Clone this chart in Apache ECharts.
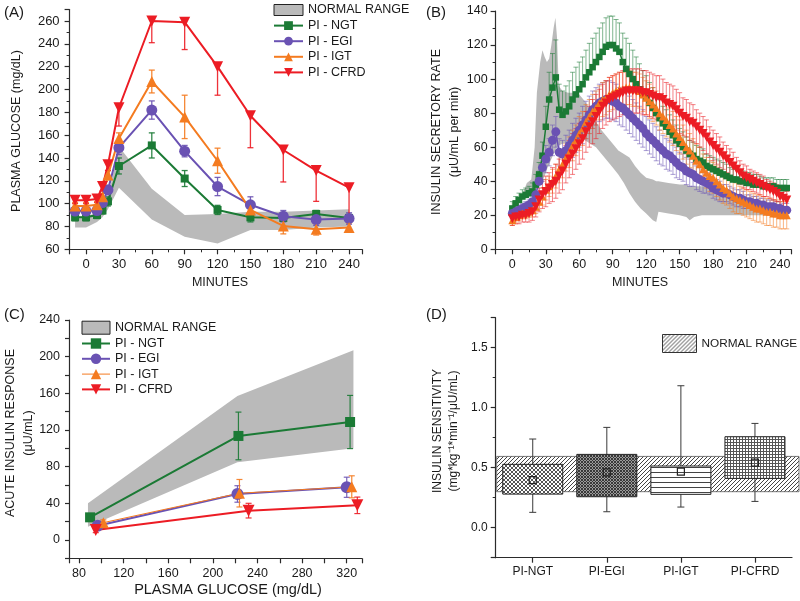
<!DOCTYPE html>
<html><head><meta charset="utf-8">
<script src="https://cdn.jsdelivr.net/npm/echarts@6/dist/echarts.min.js"></script>
<style>html,body{margin:0;padding:0;background:#fff}#c{width:800px;height:601px}</style>
</head><body><div id="c"></div><script>
// ---------- Panel A: plasma glucose ----------
const aT = [-10,0,10,15,20,30,60,90,120,150,180,210,240];
const aNGT = [88,88,90,94,102,133,151,122,94.5,88,87.5,91,87.5];
const aNGTerr = [3,3,3,3,4,7,11,7,4,4,3,3,3];
const aEGI = [93.5,93.5,94,101,112,149,182,146,115,99,89,86,87];
const aEGIerr = [3,3,3,3,4,6,8,5,8,7,5,5,5];
const aIGT = [98,98,99,106,125,157,207,176,137.6,94.5,80.5,77.5,79];
const aIGTerr = [3,3,3,3,4,5,10,19,11,5,7,5,4];
const aCFRD = [103,103,104,115,134,184,260,259,220,177,147,129,114];
const aCFRDerrLow = [3,3,3,4,5,16,19,24,25,28,28,27,27];
const aBandT = [-10,0,10,15,20,30,60,90,120,150,180,210,240];
const aBandLow = [79,79,84,88,95,114,86,71,65,77,77,79,80];
const aBandHigh = [89,89,92,96,105,150,113,90,91,93,93,94,95];

// ---------- Panel B: insulin secretory rate ----------
const bT = [0,3,6,9,12,15,18,21,24,27,30,33,36,39,42,45,48,51,54,57,60,63,66,69,72,75,78,81,84,87,
  90,93,96,99,102,105,108,111,114,117,120,123,126,129,132,135,138,141,144,147,150,153,156,159,162,165,168,171,174,177,
  180,183,186,189,192,195,198,201,204,207,210,213,216,219,222,225,228,231,234,237,240,243,246];
const bNGT = [24,27,29,31,32,33,34,38,44,55, 72,88,95,101,82,79,81,84,88,91, 94,97,101,104,107,110,113,116,119,120,
  120,118,116,110,106,103,100,97,94,91, 89,86,83,80,77,74,72,69,67,64, 62,60,58,56,55,53,52,51,49,48,
  47,46,45,44,43,42,41,41,40,40, 39,39,38,38,38,37,37,37,37,36, 36,36,36];
const bNGTerrUp = [4,4,4,4,4,4,5,6,7,8, 12,16,20,22,15,14,15,15,16,16, 16,16,16,17,17,17,17,17,17,17,
  17,17,17,17,18,18,17,16,15,14, 13,12,12,11,11,10,10,10,9,9, 9,9,8,8,8,8,8,8,7,7,
  7,7,7,7,7,6,6,6,6,6, 6,6,6,6,5,5,5,5,5,5, 5,5,5];
const bEGI = [21,22,23,24,25,26,28,32,40,48, 53,57,64,69,57,56,58,61,64,67, 70,73,76,79,82,84,86,87,88,88,
  87,86,84,83,81,79,77,75,73,71, 68,66,64,62,60,58,56,55,53,51, 49,48,46,45,44,42,41,40,39,38,
  36,35,34,33,33,32,31,30,30,29, 28,28,27,27,26,26,25,25,25,24, 24,23,23];
const bEGIerr = [3,3,3,3,3,3,4,5,6,7, 8,8,9,9,8,8,9,9,10,10, 10,11,11,11,11,11,11,11,11,11,
  11,11,11,11,11,11,11,11,11,11, 10,10,10,10,10,9,9,9,9,9, 8,8,8,8,7,7,7,7,6,6,
  6,6,6,5,5,5,5,5,5,5, 4,4,4,4,4,4,4,4,4,4, 4,4,4];
const bIGT = [17,19,20,21,21,22,23,25,28,31, 35,37,40,43,47,50,54,57,61,64, 68,71,75,78,81,83,86,88,89,91,
  92,93,94,94,95,95,94,94,93,91, 89,87,85,83,80,78,76,73,71,68, 66,63,60,58,55,52,50,47,45,43,
  42,40,38,36,35,33,31,30,29,28, 27,26,25,24,24,23,22,22,21,21, 20,20,20];
const bIGTerr = [3,3,3,3,3,3,4,4,5,5, 6,6,7,7,8,8,8,9,9,9, 10,10,10,10,10,10,10,10,10,10,
  10,10,10,10,10,10,10,10,10,10, 10,10,10,10,10,10,10,10,10,10, 10,10,10,10,10,10,10,9,9,9,
  9,9,9,9,9,9,9,9,8,8, 8,8,8,8,8,8,8,8,8,8, 8,8,8];
const bCFRD = [18,19,19,20,20,21,22,25,29,32, 34,36,38,40,43,46,50,53,56,59, 62,65,69,72,75,78,81,84,86,88,
  89,90,91,92,93,93,93,93,93,92, 92,91,90,89,89,88,86,85,84,82, 80,78,77,75,74,72,70,68,66,63,
  61,59,57,55,53,51,49,47,45,43, 42,41,40,39,38,37,36,35,34,33, 31,30,29];
const bCFRDerr = [4,4,4,4,4,5,5,6,7,8, 9,9,10,10,10,11,11,11,12,12, 12,12,12,12,13,13,13,13,13,13,
  13,13,13,13,13,13,13,13,13,13, 13,13,13,13,13,12,12,12,12,12, 12,11,11,11,11,10,10,10,10,9,
  9,9,9,8,8,8,8,7,7,7, 7,6,6,6,6,6,5,5,5,5, 5,5,5];
const bBandT = [10,13,17,20,22,25,27,29,31,33,35,37,38.6,40,41.6,45,50,55,60,65,70,75,80,85,90,95,100,105,110,115,120,126,129,131,140,150,156,159,163,170,180,190,200,210,220,230,246];
const bBandLow = [30,30,31,33,35,38,40,43,47,50,53,56,58,60,61,62,63,64,64,64,62,60,56,52,48,44,39,33,28,24,21,17,16,22,21,20,19,17,19,20,20,20,20,20,20,20,20];
const bBandHigh = [34,39,41,60,92,110,117,113,110,112,120,130,136,125,96,93,92,92,91,87,82,75,70,66,62,58,56,54,49,45,42,41,40,40,39,38,38,37,37,37,36,33,28,26,24,23,22];

// ---------- Panel C: acute insulin response ----------
const cNGTx = [89.9,222.9,323], cNGT = [24.7,113.5,128.7], cNGTerr = [3,26,29];
const cEGIx = [96.7,222,320], cEGI = [15.6,50.2,57.5], cEGIerr = [3,9,11];
const cIGTx = [101.8,223.8,324.5], cIGT = [18.9,51,58], cIGTerr = [3,15,12];
const cCFRDx = [95,232,329.5], cCFRD = [11,32,37.8], cCFRDerr = [3,8,9];
const cBandX = [88,222,326], cBandLow = [14.5,84.7,100], cBandHigh = [40,157,207];

// ---------- Panel D: insulin sensitivity ----------
const dCats = ['PI-NGT','PI-EGI','PI-IGT','PI-CFRD'];
const dWhiskLow = [0.128,0.133,0.172,0.219];
const dBoxLow = [0.28,0.258,0.278,0.411];
const dBoxHigh = [0.528,0.611,0.514,0.758];
const dWhiskHigh = [0.739,0.836,1.183,0.869];
const dMean = [0.397,0.461,0.467,0.542];
const dNormLow = 0.30, dNormHigh = 0.594;

// ---------- styles ----------
const FONT = '"Liberation Sans", Arial, Helvetica, sans-serif';
const TXT = '#1a1a1a', AXC = '#2b2b2b';
const C_NGT = '#1b7a35', C_EGI = '#6a52b3', C_IGT = '#f47b20', C_CFRD = '#ec1c24', C_BAND = '#bababa';
const INV_TRI = 'path://M0,0L10,0L5,8.66Z';

function pat(w, h, draw) {
  const c = document.createElement('canvas'); c.width = w; c.height = h;
  const g = c.getContext('2d'); g.fillStyle = '#fff'; g.fillRect(0, 0, w, h);
  g.strokeStyle = '#3a3a3a'; g.lineWidth = 1; draw(g, w, h);
  return { image: c, repeat: 'repeat' };
}
function diagFwd(g, w, h) { g.beginPath(); g.moveTo(-1, h + 1); g.lineTo(w + 1, -1); g.moveTo(-1, 1); g.lineTo(1, -1); g.moveTo(w - 1, h + 1); g.lineTo(w + 1, h - 1); g.stroke(); }
function diagBack(g, w, h) { g.beginPath(); g.moveTo(-1, -1); g.lineTo(w + 1, h + 1); g.moveTo(w - 1, -1); g.lineTo(w + 1, 1); g.moveTo(-1, h - 1); g.lineTo(1, h + 1); g.stroke(); }
const P_NORM = pat(4, 4, (g, w, h) => { g.strokeStyle = '#444'; diagFwd(g, w, h); });
const P_NGT = pat(4, 4, (g, w, h) => { g.strokeStyle = '#555'; diagFwd(g, w, h); diagBack(g, w, h); });
const P_EGI = pat(3, 3, (g, w, h) => { g.strokeStyle = '#333'; g.lineWidth = 1.1; diagFwd(g, w, h); diagBack(g, w, h); });
const P_IGT = pat(6, 5, (g, w, h) => { g.strokeStyle = '#444'; g.beginPath(); g.moveTo(0, 2.5); g.lineTo(w, 2.5); g.stroke(); });
const P_CFRD = pat(3, 3, (g, w, h) => { g.strokeStyle = '#555'; g.beginPath(); g.moveTo(0, 1.5); g.lineTo(w, 1.5); g.moveTo(1.5, 0); g.lineTo(1.5, h); g.stroke(); });
const D_PATTERNS = [P_NGT, P_EGI, P_IGT, P_CFRD];

function errRender(color, capHalf, lw, opacity) {
  return function (params, api) {
    const x = api.value(0), y = api.value(1), lo = api.value(2), hi = api.value(3);
    const pl = api.coord([x, lo]), ph = api.coord([x, hi]);
    const st = { stroke: color, lineWidth: lw, opacity: opacity, fill: null };
    const ch = [{ type: 'line', shape: { x1: pl[0], y1: pl[1], x2: ph[0], y2: ph[1] }, style: st }];
    if (lo < y) ch.push({ type: 'line', shape: { x1: pl[0] - capHalf, y1: pl[1], x2: pl[0] + capHalf, y2: pl[1] }, style: st });
    if (hi > y) ch.push({ type: 'line', shape: { x1: ph[0] - capHalf, y1: ph[1], x2: ph[0] + capHalf, y2: ph[1] }, style: st });
    return { type: 'group', children: ch };
  };
}
function bandRender(ts, lows, highs, fill) {
  return function (params, api) {
    if (params.dataIndex !== 0) return null;
    const pts = [];
    for (let i = 0; i < ts.length; i++) pts.push(api.coord([ts[i], highs[i]]));
    for (let i = ts.length - 1; i >= 0; i--) pts.push(api.coord([ts[i], lows[i]]));
    return { type: 'polygon', shape: { points: pts }, style: { fill: fill } };
  };
}

function vAxis(gi, o) {
  const lbl = Object.assign({ color: TXT, fontFamily: FONT, fontSize: 12, margin: 8 }, o.label || {});
  const ax = {
    type: 'value', gridIndex: gi, min: o.min, max: o.max,
    axisLine: { show: true, onZero: false, lineStyle: { color: AXC, width: 1.2 } },
    axisTick: { show: true, inside: false, length: o.tickLen || 5, lineStyle: { color: AXC, width: 1.2 } },
    minorTick: { show: !!o.minor, splitNumber: 2, length: 3, lineStyle: { color: AXC, width: 1 } },
    splitLine: { show: false }, minorSplitLine: { show: false },
    axisLabel: lbl
  };
  if (o.interval != null) ax.interval = o.interval;
  if (o.splitNumber != null) ax.splitNumber = o.splitNumber;
  return ax;
}

const xAxis = [
  vAxis(0, { min: -15, max: 252, splitNumber: 9, minor: true, label: { fontSize: 13, margin: 9, showMinLabel: false, showMaxLabel: false } }),
  vAxis(1, { min: -15, max: 250, splitNumber: 9, minor: true, label: { fontSize: 12.5, margin: 9, showMinLabel: false, showMaxLabel: false } }),
  vAxis(2, { min: 71, max: 333.5, splitNumber: 13, label: { fontSize: 12.5, margin: 9, formatter: v => (v % 40 === 0 ? String(v) : '') } }),
  { type: 'category', gridIndex: 3, data: dCats, boundaryGap: true,
    axisLine: { show: true, onZero: false, lineStyle: { color: AXC, width: 1.2 } },
    axisTick: { show: true, alignWithLabel: true, length: 5, lineStyle: { color: AXC, width: 1.2 } },
    axisLabel: { color: TXT, fontFamily: FONT, fontSize: 12, margin: 8 }, splitLine: { show: false } }
];
const yAxis = [
  vAxis(0, { min: 60, max: 270, interval: 20, minor: true, label: { fontSize: 13, margin: 10, showMaxLabel: false } }),
  vAxis(1, { min: 0, max: 140, interval: 20, minor: true, label: { fontSize: 12.5, margin: 8 } }),
  vAxis(2, { min: -20, max: 240, interval: 20, tickLen: 4, label: { fontSize: 12.5, margin: 9, formatter: v => (v % 40 === 0 ? String(v) : '') } }),
  vAxis(3, { min: -0.25, max: 1.75, splitNumber: 4, minor: true, label: { fontSize: 12, margin: 8, showMinLabel: false, showMaxLabel: false, formatter: v => v.toFixed(1) } })
];

const series = [];
function addBand(ai, ts, lo, hi) {
  series.push({ type: 'custom', name: 'NORMAL RANGE', xAxisIndex: ai, yAxisIndex: ai, silent: true, z: 1,
    renderItem: bandRender(ts, lo, hi, C_BAND), data: ts.map((t, i) => [t, lo[i], hi[i]]) });
}
function addSeries(ai, name, xs, ys, errLo, errHi, color, symbol, size, lw, errOpt) {
  series.push({ type: 'custom', name: name + ' err' + ai, xAxisIndex: ai, yAxisIndex: ai, silent: true, z: 2,
    renderItem: errRender(errOpt.color || color, errOpt.cap, errOpt.lw, errOpt.op),
    data: xs.map((x, i) => [x, ys[i], ys[i] - (errLo ? errLo[i] : 0), ys[i] + (errHi ? errHi[i] : 0)]) });
  series.push({ type: 'line', name: name, xAxisIndex: ai, yAxisIndex: ai, z: 3,
    data: xs.map((x, i) => [x, ys[i]]), symbol: symbol, symbolSize: size, showAllSymbol: true,
    lineStyle: { color: color, width: lw }, itemStyle: { color: color }, silent: true });
}
// Panel A
addBand(0, aBandT, aBandLow, aBandHigh);
const eA = { cap: 3, lw: 1.3, op: 0.9 };
addSeries(0, 'PI - NGT', aT, aNGT, aNGTerr, aNGTerr, C_NGT, 'rect', 8, 2, eA);
addSeries(0, 'PI - EGI', aT, aEGI, aEGIerr, aEGIerr, C_EGI, 'circle', 11, 2, eA);
addSeries(0, 'PI - IGT', aT, aIGT, aIGTerr, aIGTerr, C_IGT, 'triangle', 11, 2, eA);
addSeries(0, 'PI - CFRD', aT, aCFRD, aCFRDerrLow, null, C_CFRD, INV_TRI, 11, 2, eA);
// Panel B
addBand(1, bBandT, bBandLow, bBandHigh);
const eB = { cap: 2.5, lw: 0.8, op: 0.7 };
addSeries(1, 'B NGT', bT, bNGT, null, bNGTerrUp, C_NGT, 'rect', 6.5, 1.5, eB);
addSeries(1, 'B EGI', bT, bEGI, bEGIerr, bEGIerr, C_EGI, 'circle', 9, 1.5, eB);
addSeries(1, 'B IGT', bT, bIGT, bIGTerr, bIGTerr, C_IGT, 'triangle', 8, 1.5, eB);
addSeries(1, 'B CFRD', bT, bCFRD, bCFRDerr, bCFRDerr, C_CFRD, INV_TRI, 9, 1.5, eB);
// Panel C
addBand(2, cBandX, cBandLow, cBandHigh);
const eC = { cap: 3, lw: 1.2, op: 0.9 };
addSeries(2, 'PI - NGT', cNGTx, cNGT, cNGTerr, cNGTerr, C_NGT, 'rect', 10, 2, eC);
addSeries(2, 'PI - EGI', cEGIx, cEGI, cEGIerr, cEGIerr, C_EGI, 'circle', 12, 2, eC);
addSeries(2, 'PI - IGT', cIGTx, cIGT, cIGTerr, cIGTerr, C_IGT, 'triangle', 11, 1, eC);
addSeries(2, 'PI - CFRD', cCFRDx, cCFRD, cCFRDerr, cCFRDerr, C_CFRD, INV_TRI, 12, 2, eC);
// Panel D
series.push({ type: 'custom', name: 'NORMAL RANGE', xAxisIndex: 3, yAxisIndex: 3, silent: true, z: 1,
  data: [[0, dNormLow, dNormHigh]],
  renderItem: function (params, api) {
    const cs = params.coordSys;
    const y1 = api.coord([0, api.value(2)])[1], y2 = api.coord([0, api.value(1)])[1];
    return { type: 'rect', shape: { x: cs.x + 1, y: y1, width: cs.width + 6, height: y2 - y1 },
      style: { fill: P_NORM, stroke: '#555', lineWidth: 0.8 } };
  } });
series.push({ type: 'custom', name: 'boxes', xAxisIndex: 3, yAxisIndex: 3, silent: true, z: 2,
  data: dCats.map((c, i) => [i, dWhiskLow[i], dBoxLow[i], dBoxHigh[i], dWhiskHigh[i], dMean[i]]),
  renderItem: function (params, api) {
    const i = api.value(0);
    const bw = api.size([1, 0])[0] * 0.81;
    const cx = api.coord([i, 0])[0];
    const yWL = api.coord([i, api.value(1)])[1], yQ1 = api.coord([i, api.value(2)])[1];
    const yQ3 = api.coord([i, api.value(3)])[1], yWH = api.coord([i, api.value(4)])[1];
    const yM = api.coord([i, api.value(5)])[1];
    const ls = { stroke: '#3a3a3a', lineWidth: 1, fill: null };
    return { type: 'group', children: [
      { type: 'line', shape: { x1: cx, y1: yWL, x2: cx, y2: yWH }, style: ls },
      { type: 'line', shape: { x1: cx - 3.5, y1: yWL, x2: cx + 3.5, y2: yWL }, style: ls },
      { type: 'line', shape: { x1: cx - 3.5, y1: yWH, x2: cx + 3.5, y2: yWH }, style: ls },
      { type: 'rect', shape: { x: cx - bw / 2, y: yQ3, width: bw, height: yQ1 - yQ3 },
        style: { fill: D_PATTERNS[i], stroke: '#222', lineWidth: 1 } },
      { type: 'rect', shape: { x: cx - 3.5, y: yM - 3.5, width: 7, height: 7 },
        style: { fill: null, stroke: '#222', lineWidth: 1.2 } }
    ] };
  } });

function txt(t, x, y, size, align) {
  return { type: 'text', x: x, y: y, silent: true,
    style: { text: t, fontSize: size, fontFamily: FONT, fill: TXT, align: align || 'left', verticalAlign: 'middle' } };
}
function vtxt(t, x, y, size) {
  return { type: 'text', x: x, y: y, rotation: Math.PI / 2, silent: true,
    style: { text: t, fontSize: size, fontFamily: FONT, fill: TXT, align: 'center', verticalAlign: 'middle' } };
}
const graphic = [
  txt('(A)', 4, 13, 15), txt('(B)', 426, 13, 15), txt('(C)', 4, 315, 15), txt('(D)', 426, 315, 15),
  txt('MINUTES', 220, 283, 12.5, 'center'), txt('MINUTES', 640, 283, 12.5, 'center'),
  txt('PLASMA GLUCOSE (mg/dL)', 228, 590, 14.5, 'center'),
  vtxt('PLASMA GLUCOSE (mg/dL)', 17, 131, 12.5),
  vtxt('INSULIN SECRETORY RATE', 437, 132, 12.5),
  vtxt('(\u03bcU/mL per min)', 455, 132, 12.5),
  vtxt('ACUTE INSULIN RESPONSE', 11, 433, 12.5),
  vtxt('(\u03bcU/mL)', 29, 433, 12.5),
  vtxt('INSULIN SENSITIVITY', 438, 431, 12),
  vtxt('(mg*kg\u207b\u00b9*min\u207b\u00b9/\u03bcU/mL)', 454, 431, 12)
];

const legTxt = { fontFamily: FONT, fontSize: 12.5, color: TXT };
const legend = [
  { orient: 'vertical', left: 273, top: 3.5, padding: 0, itemWidth: 29, itemHeight: 11, itemGap: 2.6, selectedMode: false,
    textStyle: legTxt,
    data: [{ name: 'NORMAL RANGE', icon: 'rect', itemStyle: { color: C_BAND, borderColor: '#222', borderWidth: 1 } },
      'PI - NGT', 'PI - EGI', 'PI - IGT', 'PI - CFRD'] },
  { orient: 'vertical', left: 81, top: 320.7, padding: 0, itemWidth: 28, itemHeight: 13, itemGap: 2.3, selectedMode: false,
    textStyle: legTxt,
    data: [{ name: 'NORMAL RANGE', icon: 'rect', itemStyle: { color: C_BAND, borderColor: '#222', borderWidth: 1 } },
      'PI - NGT', 'PI - EGI', { name: 'PI - IGT', lineStyle: { width: 1 } }, 'PI - CFRD'] },
  { orient: 'vertical', left: 662, top: 334, padding: 0, itemWidth: 34, itemHeight: 18, selectedMode: false,
    textStyle: { fontFamily: FONT, fontSize: 11.8, color: TXT },
    data: [{ name: 'NORMAL RANGE', icon: 'rect', itemStyle: { color: P_NORM, borderColor: '#333', borderWidth: 1 } }] }
];

const chart = echarts.init(document.getElementById('c'), null, { renderer: 'canvas' });
chart.setOption({
  animation: false,
  backgroundColor: '#fff',
  textStyle: { fontFamily: FONT },
  grid: [
    { left: 69.6, top: 9.6, width: 292.6, height: 239.7 },
    { left: 495.6, top: 11, width: 295.6, height: 238.3 },
    { left: 69, top: 320, width: 292.8, height: 238.3 },
    { left: 495.7, top: 317.7, width: 296.3, height: 240 }
  ],
  xAxis: xAxis, yAxis: yAxis, legend: legend, graphic: graphic, series: series
});
</script></body></html>
